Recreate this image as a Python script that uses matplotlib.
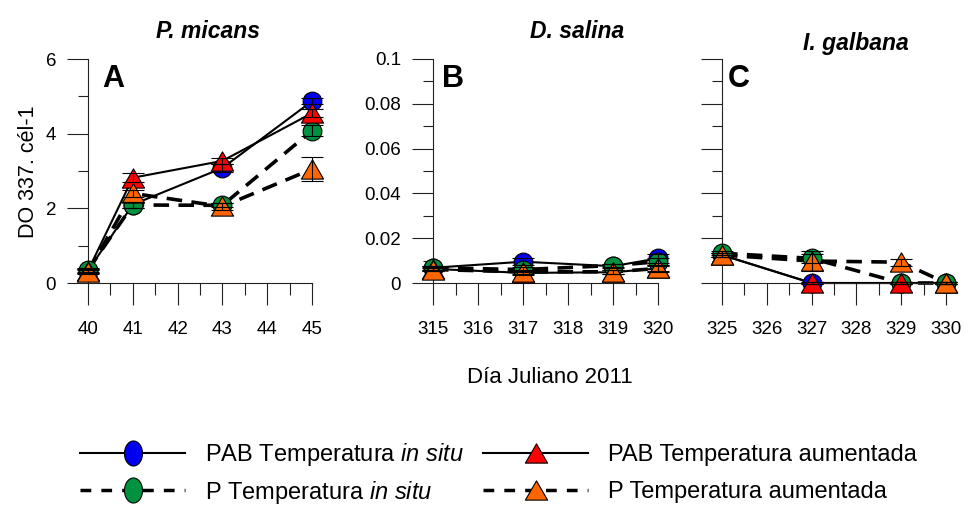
import numpy as np
import matplotlib
matplotlib.use('Agg')
import matplotlib.pyplot as plt
from matplotlib.path import Path
from matplotlib.lines import Line2D
from matplotlib.ticker import MultipleLocator, FixedLocator, FixedFormatter

plt.rcParams['font.family'] = ['Liberation Sans', 'DejaVu Sans']
plt.rcParams['mathtext.fontset'] = 'custom'
plt.rcParams['mathtext.rm'] = 'Liberation Sans'
plt.rcParams['mathtext.it'] = 'Liberation Sans:italic'
plt.rcParams['mathtext.bf'] = 'Liberation Sans:bold'

# ---------------- data ----------------
labels = ['PAB Temperatura $\\it{in\\ situ}$', 'PAB Temperatura aumentada',
          'P Temperatura $\\it{in\\ situ}$', 'P Temperatura aumentada']
titles = ['P. micans', 'D. salina', 'I. galbana']
panel_letters = ['A', 'B', 'C']

a_days = [40, 41, 43, 45]
a_pab_insitu = [0.33, 2.10, 3.08, 4.87]
a_pab_aum = [0.33, 2.82, 3.27, 4.55]
a_p_insitu = [0.35, 2.09, 2.08, 4.08]
a_p_aum = [0.30, 2.40, 2.05, 3.05]
a_err_pab_insitu = [0.05, 0.08, 0.10, 0.08]
a_err_pab_aum = [0.05, 0.12, 0.07, 0.10]
a_err_p_insitu = [0.05, 0.08, 0.05, 0.15]
a_err_p_aum = [0.05, 0.10, 0.10, 0.32]

b_days = [315, 317, 319, 320]
b_pab_insitu = [0.0068, 0.0095, 0.0075, 0.0110]
b_pab_aum = [0.0063, 0.0045, 0.0048, 0.0065]
b_p_insitu = [0.0068, 0.0060, 0.0078, 0.0095]
b_p_aum = [0.0060, 0.0050, 0.0050, 0.0065]
b_err_pab_insitu = [0.0008, 0.0015, 0.0008, 0.0020]
b_err_pab_aum = [0.0008, 0.0010, 0.0008, 0.0010]
b_err_p_insitu = [0.0008, 0.0010, 0.0008, 0.0015]
b_err_p_aum = [0.0008, 0.0010, 0.0008, 0.0015]

c_days = [325, 327, 329, 330]
c_pab_insitu = [0.0125, 0.0, 0.0, 0.0]
c_pab_aum = [0.0125, 0.0, 0.0, 0.0]
c_p_insitu = [0.0133, 0.0110, 0.0, 0.0]
c_p_aum = [0.0125, 0.0098, 0.0093, 0.0]
c_err_pab_insitu = [0.0008, 0.0005, 0.0005, 0.0005]
c_err_pab_aum = [0.0008, 0.0005, 0.0005, 0.0005]
c_err_p_insitu = [0.0008, 0.0020, 0.0005, 0.0005]
c_err_p_aum = [0.0008, 0.0044, 0.0015, 0.0005]

a_yticks = [0, 2, 4, 6]
a_yticklabels = ['0', '2', '4', '6']
bc_yticks = [0, 0.02, 0.04, 0.06, 0.08, 0.1]
bc_yticklabels = ['0', '0.02', '0.04', '0.06', '0.08', '0.1']

# ---------------- styles ----------------
W, H = 965, 507
fig = plt.figure(figsize=(W / 100, H / 100), dpi=100)

colors = ['#0000F0', '#FF0000', '#00923F', '#FF6600']
circle = 'o'
tri = Path([(-1, -0.866), (1, -0.866), (0, 0.866), (-1, -0.866)],
           [Path.MOVETO, Path.LINETO, Path.LINETO, Path.CLOSEPOLY])
theta = np.linspace(0, 2 * np.pi, 60)
ellipse = Path(np.column_stack([0.72 * np.cos(theta), np.sin(theta)]))
markers = [circle, tri, circle, tri]
msizes = [13.5, 16, 13.5, 16]
solid = '-'
dashed = (0, (4.3, 2.6))
lstyles = [solid, solid, dashed, dashed]
lwidths = [1.5, 1.5, 2.6, 2.6]
marker_z = [4, 6, 5, 7]   # blue, red, green, orange drawing order


def px_axes(left, right, top, bottom):
    return fig.add_axes([left / W, 1 - bottom / H, (right - left) / W, (bottom - top) / H])


def ftext(x, y, s, **kw):
    return fig.text(x / W, 1 - y / H, s, **kw)


panels = [
    (px_axes(88, 312, 59, 283), a_days,
     [a_pab_insitu, a_pab_aum, a_p_insitu, a_p_aum],
     [a_err_pab_insitu, a_err_pab_aum, a_err_p_insitu, a_err_p_aum],
     (40, 45), (0, 6), a_yticks, a_yticklabels, 1),
    (px_axes(433, 658, 59, 283), b_days,
     [b_pab_insitu, b_pab_aum, b_p_insitu, b_p_aum],
     [b_err_pab_insitu, b_err_pab_aum, b_err_p_insitu, b_err_p_aum],
     (315, 320), (0, 0.1), bc_yticks, bc_yticklabels, 0.01),
    (px_axes(722, 946, 59, 283), c_days,
     [c_pab_insitu, c_pab_aum, c_p_insitu, c_p_aum],
     [c_err_pab_insitu, c_err_pab_aum, c_err_p_insitu, c_err_p_aum],
     (325, 330), (0, 0.1), bc_yticks, None, 0.01),
]

for ax, days, series, errs, xlim, ylim, yt, ytl, yminor in panels:
    for i in range(4):
        ax.plot(days, series[i], color='black', linestyle=lstyles[i],
                linewidth=lwidths[i], zorder=2, clip_on=False,
                dash_capstyle='butt')
    for i in range(4):
        ax.plot(days, series[i], linestyle='none', marker=markers[i],
                markersize=msizes[i], markerfacecolor=colors[i],
                markeredgecolor='black', markeredgewidth=0.8,
                zorder=marker_z[i], clip_on=False)
    for i in range(4):
        eb = ax.errorbar(days, series[i], yerr=errs[i], fmt='none',
                         ecolor='black', elinewidth=0.8, capsize=8,
                         capthick=0.8, zorder=8)
        for ch in eb.get_children():
            ch.set_clip_on(False)
            ch.set_zorder(8)
    ax.set_xlim(*xlim)
    ax.set_ylim(*ylim)
    ax.spines['top'].set_visible(False)
    ax.spines['right'].set_visible(False)
    for sp in ('left', 'bottom'):
        ax.spines[sp].set_linewidth(0.8)
        ax.spines[sp].set_color('#222222')
    ax.xaxis.set_major_locator(MultipleLocator(1))
    ax.xaxis.set_minor_locator(MultipleLocator(0.5))
    ax.yaxis.set_major_locator(FixedLocator(yt))
    ax.yaxis.set_minor_locator(MultipleLocator(yminor))
    if ytl is not None:
        ax.yaxis.set_major_formatter(FixedFormatter(ytl))
    else:
        ax.set_yticklabels([])
    ax.tick_params(axis='y', which='major', direction='out', length=15,
                   width=0.8, pad=8, labelsize=13.5, color='#222222')
    ax.tick_params(axis='y', which='minor', direction='out', length=7.5,
                   width=0.8, color='#222222')
    ax.tick_params(axis='x', which='major', direction='out', length=16,
                   width=0.8, pad=11, labelsize=13.5, color='#222222')
    ax.tick_params(axis='x', which='minor', direction='out', length=8.5,
                   width=0.8, color='#222222')
    ax.patch.set_alpha(0)

# titles and panel letters
ftext(208, 38, titles[0], ha='center', va='baseline', fontsize=16.5,
      fontweight='bold', fontstyle='italic')
ftext(577, 38, titles[1], ha='center', va='baseline', fontsize=16.5,
      fontweight='bold', fontstyle='italic')
ftext(856, 50, titles[2], ha='center', va='baseline', fontsize=16.5,
      fontweight='bold', fontstyle='italic')
for x, s in zip([102, 442, 728], panel_letters):
    ftext(x, 87, s, ha='left', va='baseline', fontsize=22, fontweight='bold')

ftext(550, 383, 'Día Juliano 2011', ha='center', va='baseline', fontsize=16)
ftext(28, 172, 'DO 337. cél-1', ha='center', va='center', rotation=90,
      fontsize=15.5)

# legend: one entry per legend so each row sits exactly where wanted
leg_size = 17
leg_marker = [ellipse, tri, ellipse, tri]
leg_ms = [18, 16, 18, 16]
leg_ls = ['-', '-', (0, (3.1, 2.9)), (0, (3.1, 2.9))]
leg_lw = [1.5, 1.5, 2.5, 2.5]
leg_pos = [(80, 455), (483, 455), (80, 492), (483, 492)]
for i in range(4):
    h = Line2D([], [], color='black', linestyle=leg_ls[i],
               linewidth=leg_lw[i], marker=leg_marker[i],
               markersize=leg_ms[i], markerfacecolor=colors[i],
               markeredgecolor='black', markeredgewidth=0.8)
    x0, y0 = leg_pos[i]
    fig.legend([h], [labels[i]], loc='center left',
               bbox_to_anchor=(x0 / W, 1 - y0 / H),
               frameon=False, borderpad=0, borderaxespad=0,
               handlelength=105 / (leg_size * 100 / 72),
               handletextpad=20 / (leg_size * 100 / 72),
               numpoints=1, prop={'size': leg_size})

fig.savefig('out.png', dpi=100)
